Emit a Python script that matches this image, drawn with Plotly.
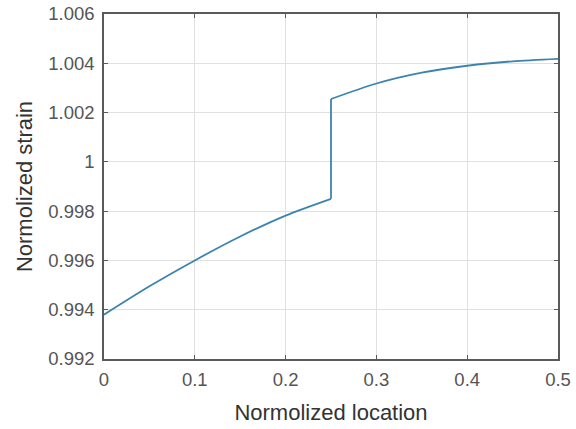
import plotly.graph_objects as go

# Data
# Segment before the jump
x_left = [0.0, 0.05, 0.1, 0.15, 0.2, 0.25]
y_left = [0.9938, 0.99495, 0.996, 0.99697, 0.99782, 0.9985]
# Segment after the jump
x_right = [0.25, 0.3, 0.35, 0.4, 0.45, 0.5]
y_right = [1.00255, 1.00318, 1.00362, 1.0039, 1.00408, 1.00418]

x_ticks = [0, 0.1, 0.2, 0.3, 0.4, 0.5]
x_tick_labels = ["0", "0.1", "0.2", "0.3", "0.4", "0.5"]
y_ticks = [0.992, 0.994, 0.996, 0.998, 1.0, 1.002, 1.004, 1.006]
y_tick_labels = ["0.992", "0.994", "0.996", "0.998", "1", "1.002", "1.004", "1.006"]

FONT = "Liberation Sans, Arial, sans-serif"
LINE = dict(color="#3c84ad", width=1.8)

fig = go.Figure()
fig.add_trace(go.Scatter(x=x_left, y=y_left, mode="lines",
                         line=dict(**LINE, shape="spline", smoothing=0.8),
                         showlegend=False))
fig.add_trace(go.Scatter(x=[x_left[-1], x_right[0]], y=[y_left[-1], y_right[0]],
                         mode="lines", line=LINE, showlegend=False))
fig.add_trace(go.Scatter(x=x_right, y=y_right, mode="lines",
                         line=dict(**LINE, shape="spline", smoothing=0.8),
                         showlegend=False))

axis_common = dict(
    showline=True, linecolor="#5a5a5a", linewidth=1.5, mirror="ticks",
    ticks="inside", ticklen=4, tickcolor="#5a5a5a", tickwidth=1,
    showgrid=True, gridcolor="#e0e0e0", gridwidth=1, zeroline=False,
    tickfont=dict(family=FONT, size=18.5, color="#555555"),
    automargin=False,
)

fig.update_layout(
    width=576, height=429,
    margin=dict(l=104, r=18, t=14, b=70),
    paper_bgcolor="white", plot_bgcolor="white",
    xaxis=dict(range=[0, 0.5], tickvals=x_ticks, ticktext=x_tick_labels,
               ticklabelstandoff=3,
               title=dict(text="Normolized location", standoff=16,
                          font=dict(family=FONT, size=22, color="#333333")),
               **axis_common),
    yaxis=dict(range=[0.992, 1.006], tickvals=y_ticks, ticktext=y_tick_labels,
               ticklabelstandoff=4,
               title=dict(text="Normolized strain", standoff=10,
                          font=dict(family=FONT, size=22, color="#333333")),
               **axis_common),
)

fig.write_html("out.html")
